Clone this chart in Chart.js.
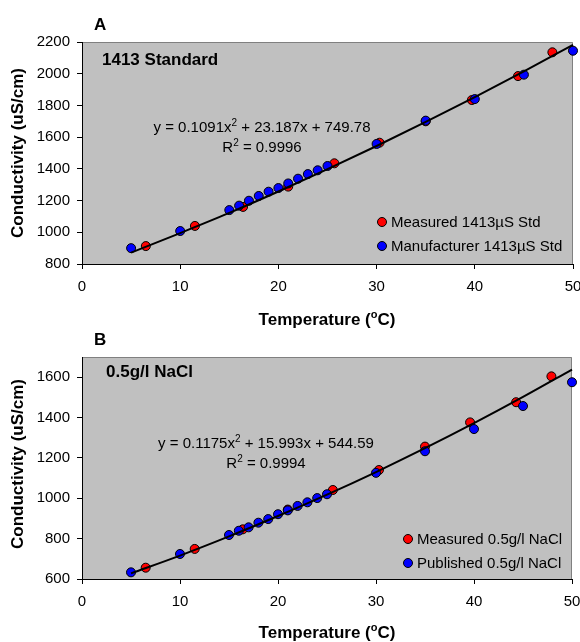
<!DOCTYPE html>
<html>
<head>
<meta charset="utf-8">
<script src="https://cdn.jsdelivr.net/npm/chart.js@4.4.1/dist/chart.umd.min.js"></script>
<style>
body { margin: 0; background: #fff; }
canvas { display: block; }
</style>
</head>
<body>
<canvas id="chartA" width="580" height="330"></canvas>
<canvas id="chartB" width="580" height="312"></canvas>
<script>
// ---- data ----
const xTicks = [0, 10, 20, 30, 40, 50];
const yTicksA = [800, 1000, 1200, 1400, 1600, 1800, 2000, 2200];
const yTicksB = [600, 800, 1000, 1200, 1400, 1600];

// temperatures of the measured points
const measuredTempA = [6.5, 11.5, 16.4, 21, 25.7, 30.3, 35, 39.7, 44.4, 47.9];
const measuredCondA = [913, 1040, 1160, 1288, 1435, 1565, 1700, 1834, 1985, 2135];

// manufacturer / published table temperatures
const tableTemp = [5, 10, 15, 16, 17, 18, 19, 20, 21, 22, 23, 24, 25, 30, 35, 40, 45, 50];
const manufCondA = [900, 1008, 1140, 1168, 1199, 1229, 1256, 1279, 1308, 1338, 1367, 1391, 1418, 1557, 1704, 1840, 1994, 2145];

// trend line, read at 5 degree steps
const trendTemp = [5, 10, 15, 20, 25, 30, 35, 40, 45, 50];
const trendCondA = [872, 995, 1122, 1257, 1398, 1544, 1696, 1853, 2015, 2182];

// panel B: 0.5g/l NaCl
const measuredTempB = [6.5, 11.5, 16.4, 21, 25.6, 30.3, 35, 39.6, 44.3, 47.9];
const measuredCondB = [656, 749, 846, 944, 1041, 1140, 1256, 1376, 1476, 1604];
const publishedCondB = [633, 724, 818, 839, 856, 879, 897, 921, 940, 962, 980, 1001, 1020, 1126, 1233, 1343, 1457, 1575];
const trendCondB = [628, 716, 811, 912, 1018, 1130, 1248, 1372, 1502, 1638];

const FAM = '"Liberation Sans", Arial, sans-serif';
Chart.defaults.font.family = FAM;
Chart.defaults.font.size = 15;
Chart.defaults.color = '#000';

function pts(xs, ys) {
  return xs.map((x, i) => ({ x: x, y: ys[i] }));
}

// draws a line of text made of parts, some of them superscript
function richText(ctx, parts, x, y, size, weight, align) {
  let w = 0;
  parts.forEach(p => {
    ctx.font = weight + ' ' + (p[1] ? Math.round(size * 0.65) : size) + 'px ' + FAM;
    w += ctx.measureText(p[0]).width;
  });
  let cx = align === 'center' ? x - w / 2 : x;
  ctx.textAlign = 'left';
  ctx.textBaseline = 'alphabetic';
  parts.forEach(p => {
    ctx.font = weight + ' ' + (p[1] ? Math.round(size * 0.65) : size) + 'px ' + FAM;
    ctx.fillText(p[0], cx, p[1] ? y - size * 0.42 : y);
    cx += ctx.measureText(p[0]).width;
  });
}

function marker(ctx, x, y, color) {
  ctx.beginPath();
  ctx.arc(x, y, 4.5, 0, Math.PI * 2);
  ctx.fillStyle = color;
  ctx.fill();
  ctx.lineWidth = 1;
  ctx.strokeStyle = '#000';
  ctx.stroke();
}

function makeChart(id, o) {
  const bgPlugin = {
    id: 'plotBg',
    beforeDraw(chart) {
      const a = chart.chartArea, ctx = chart.ctx;
      ctx.save();
      ctx.fillStyle = '#C0C0C0';
      ctx.fillRect(a.left, a.top, a.right - a.left, a.bottom - a.top);
      ctx.strokeStyle = '#808080';
      ctx.lineWidth = 1;
      ctx.beginPath();
      ctx.moveTo(a.left, a.top + 0.5);
      ctx.lineTo(a.right - 0.5, a.top + 0.5);
      ctx.lineTo(a.right - 0.5, a.bottom);
      ctx.stroke();
      ctx.restore();
    },
    afterDraw(chart) {
      const ctx = chart.ctx;
      ctx.save();
      ctx.fillStyle = '#000';
      richText(ctx, [[o.letter]], 94, o.letterY, 17, 'bold', 'left');
      richText(ctx, [[o.label]], o.labelX, o.labelY, 17, 'bold', 'left');
      richText(ctx, o.eq, o.eqX, o.eqY, 15, 'normal', 'center');
      richText(ctx, o.r2, o.eqX, o.eqY + 20, 15, 'normal', 'center');
      // legend
      o.legend.forEach((l, i) => {
        const ly = o.legY + i * 24;
        marker(ctx, o.legX, ly, l[1]);
        ctx.fillStyle = '#000';
        ctx.font = '15px ' + FAM;
        ctx.textAlign = 'left';
        ctx.textBaseline = 'middle';
        ctx.fillText(l[0], o.legX + 9, ly + 1);
      });
      // axis titles
      richText(ctx, [['Temperature ('], ['o', true], ['C)']], 327, o.xTitleY, 17, 'bold', 'center');
      ctx.translate(18, o.yTitleY);
      ctx.rotate(-Math.PI / 2);
      ctx.textAlign = 'center';
      ctx.textBaseline = 'middle';
      ctx.font = 'bold 17px ' + FAM;
      ctx.fillText('Conductivity (uS/cm)', 0, 0);
      ctx.restore();
    }
  };

  return new Chart(document.getElementById(id), {
    type: 'scatter',
    data: {
      datasets: [{
        label: 'trend',
        data: o.trend,
        showLine: true,
        borderColor: '#000',
        borderWidth: 2,
        pointRadius: 0,
        cubicInterpolationMode: 'monotone',
        order: 0,
        clip: false
      }, {
        label: o.legend[1][0],
        data: o.table,
        backgroundColor: '#0000FF',
        borderColor: '#000',
        borderWidth: 1,
        pointRadius: 4.5,
        order: 1,
        clip: false
      }, {
        label: o.legend[0][0],
        data: o.measured,
        backgroundColor: '#FF0000',
        borderColor: '#000',
        borderWidth: 1,
        pointRadius: 4.5,
        order: 2,
        clip: false
      }]
    },
    options: {
      responsive: false,
      animation: false,
      events: [],
      layout: { padding: { left: 0, right: o.padRight, top: o.padTop, bottom: 0 } },
      plugins: { legend: { display: false }, tooltip: { enabled: false } },
      scales: {
        x: {
          type: 'linear',
          min: 0, max: 50,
          afterBuildTicks: s => { s.ticks = xTicks.map(v => ({ value: v })); },
          afterFit: s => { s.height = o.xAxisH; s.paddingLeft = 0; s.paddingRight = 0; },
          ticks: { padding: 9, font: { size: 15 }, color: '#000', callback: v => String(v) },
          grid: { drawOnChartArea: false, drawTicks: true, tickLength: 5, color: '#000' },
          border: { color: '#000', width: 1 }
        },
        y: {
          min: o.yMin, max: o.yMax,
          afterBuildTicks: s => { s.ticks = o.yTicks.map(v => ({ value: v })); },
          afterFit: s => { s.width = 82; s.paddingTop = 0; s.paddingBottom = 0; },
          ticks: { padding: 7, font: { size: 15 }, color: '#000', callback: v => String(v) },
          grid: { drawOnChartArea: false, drawTicks: true, tickLength: 5, color: '#000' },
          border: { color: '#000', width: 1 }
        }
      }
    },
    plugins: [bgPlugin]
  });
}

makeChart('chartA', {
  letter: 'A', letterY: 30,
  label: '1413 Standard', labelX: 102, labelY: 65,
  eq: [['y = 0.1091x'], ['2', true], [' + 23.187x + 749.78']],
  r2: [['R'], ['2', true], [' = 0.9996']],
  eqX: 262, eqY: 132,
  legend: [['Measured 1413\u00b5S Std', '#FF0000'], ['Manufacturer 1413\u00b5S Std', '#0000FF']],
  legX: 382, legY: 222,
  xTitleY: 325, yTitleY: 153,
  trend: pts(trendTemp, trendCondA),
  table: pts(tableTemp, manufCondA),
  measured: pts(measuredTempA, measuredCondA),
  yMin: 800, yMax: 2200, yTicks: yTicksA,
  padTop: 42, padRight: 7, xAxisH: 66
});

makeChart('chartB', {
  letter: 'B', letterY: 15,
  label: '0.5g/l NaCl', labelX: 106, labelY: 47,
  eq: [['y = 0.1175x'], ['2', true], [' + 15.993x + 544.59']],
  r2: [['R'], ['2', true], [' = 0.9994']],
  eqX: 266, eqY: 118,
  legend: [['Measured 0.5g/l NaCl', '#FF0000'], ['Published 0.5g/l NaCl', '#0000FF']],
  legX: 408, legY: 209,
  xTitleY: 308, yTitleY: 134,
  trend: pts(trendTemp, trendCondB),
  table: pts(tableTemp, publishedCondB),
  measured: pts(measuredTempB, measuredCondB),
  yMin: 600, yMax: 1700, yTicks: yTicksB,
  padTop: 27, padRight: 8, xAxisH: 63
});
</script>
</body>
</html>
